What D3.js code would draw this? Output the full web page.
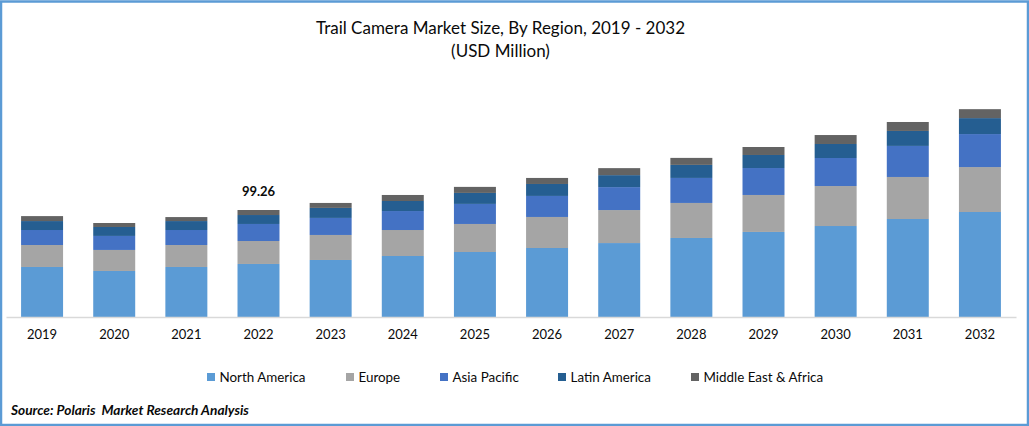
<!DOCTYPE html>
<html>
<head>
<meta charset="utf-8">
<script src="https://cdn.jsdelivr.net/npm/d3@7"></script>
<style>
  html, body { margin: 0; padding: 0; background: #fff; }
  svg { display: block; }
  text { font-family: Lato, "Open Sans", sans-serif; fill: #0a0a0a; }
</style>
</head>
<body>
<div id="chart"></div>
<script>
var years = [2019, 2020, 2021, 2022, 2023, 2024, 2025, 2026, 2027, 2028, 2029, 2030, 2031, 2032];
var regions = ["North America", "Europe", "Asia Pacific", "Latin America", "Middle East & Africa"];
var northAmerica = [46.4, 42.7, 46.4, 49.2, 52.9, 56.6, 60.3, 64.0, 68.6, 73.3, 78.9, 84.4, 90.9, 97.4];
var europe = [20.4, 19.5, 20.4, 21.3, 23.2, 24.1, 26.0, 28.8, 30.6, 32.5, 34.3, 37.1, 39.0, 41.7];
var asiaPacific = [13.9, 13.0, 13.9, 15.8, 15.8, 17.6, 18.6, 19.5, 21.3, 23.2, 25.0, 26.0, 28.8, 30.6];
var latinAmerica = [8.3, 8.3, 8.3, 8.3, 9.3, 9.3, 10.2, 11.1, 11.1, 12.1, 12.1, 13.0, 13.9, 14.8];
var middleEast = [4.6, 3.7, 3.7, 4.66, 4.6, 5.6, 5.6, 5.6, 6.5, 6.5, 7.4, 8.3, 8.3, 8.3];
var colors = ["#5b9bd5", "#a5a5a5", "#4472c4", "#255e91", "#636363"];
var labelYear = 2022;
var labelText = "99.26";

var w = 1029;
var h = 426;
var baseline = 317;

var rows = years.map(function (y, i) {
  return {
    year: y,
    "North America": northAmerica[i],
    "Europe": europe[i],
    "Asia Pacific": asiaPacific[i],
    "Latin America": latinAmerica[i],
    "Middle East & Africa": middleEast[i]
  };
});
var stacked = d3.stack().keys(regions)(rows);

var xScale = d3
  .scaleBand()
  .domain(years)
  .range([6, 1016])
  .paddingInner(0.418)
  .paddingOuter(0.209);

// 99.26 is the only printed total, it sets the pixels per unit
var yScale = d3.scaleLinear().domain([0, 99.26]).range([baseline, 210]);

var svg = d3.select("#chart").append("svg").attr("width", w).attr("height", h);

// frame
svg
  .append("rect")
  .attr("x", 1)
  .attr("y", 1.5)
  .attr("width", w - 2)
  .attr("height", h - 2.5)
  .attr("fill", "none")
  .attr("stroke", "#5b9bd5")
  .attr("stroke-width", 2.5);

svg
  .selectAll(".title")
  .data(["Trail Camera Market Size, By Region, 2019 - 2032", "(USD Million)"])
  .enter()
  .append("text")
  .attr("class", "title")
  .attr("x", 500.5)
  .attr("y", function (d, i) {
    return 34 + i * 23;
  })
  .attr("text-anchor", "middle")
  .attr("font-size", "17px")
  .text(function (d) {
    return d;
  });

svg
  .selectAll(".layer")
  .data(stacked)
  .enter()
  .append("g")
  .attr("class", "layer")
  .attr("fill", function (d, i) {
    return colors[i];
  })
  .selectAll("rect")
  .data(function (d) {
    return d;
  })
  .enter()
  .append("rect")
  .attr("x", function (d) {
    return xScale(d.data.year);
  })
  .attr("y", function (d) {
    return yScale(d[1]);
  })
  .attr("width", xScale.bandwidth())
  .attr("height", function (d) {
    return yScale(d[0]) - yScale(d[1]);
  });

var xAxis = svg
  .append("g")
  .attr("transform", "translate(0," + baseline + ")")
  .call(d3.axisBottom(xScale).tickSize(0).tickPadding(13));
xAxis.select(".domain").attr("stroke", "#d9d9d9").attr("stroke-width", 1.5);
xAxis.selectAll("text").attr("font-family", "Lato").attr("font-size", "13px");

svg
  .append("text")
  .attr("x", xScale(labelYear) + xScale.bandwidth() / 2)
  .attr("y", 196)
  .attr("text-anchor", "middle")
  .attr("font-size", "13px")
  .attr("font-weight", "bold")
  .text(labelText);

// legend, one x for each entry
var legendX = [207, 346, 440, 558, 691];
var legend = svg
  .selectAll(".legend")
  .data(regions)
  .enter()
  .append("g")
  .attr("class", "legend")
  .attr("transform", function (d, i) {
    return "translate(" + legendX[i] + ",373)";
  });
legend
  .append("rect")
  .attr("width", 8)
  .attr("height", 8)
  .attr("fill", function (d, i) {
    return colors[i];
  });
legend
  .append("text")
  .attr("x", 12.5)
  .attr("y", 8.5)
  .attr("font-size", "13.4px")
  .text(function (d) {
    return d;
  });

svg
  .append("text")
  .attr("x", 11)
  .attr("y", 415)
  .attr("font-size", "13.7px")
  .attr("font-weight", "bold")
  .attr("font-style", "italic")
  .attr("xml:space", "preserve")
  .text("Source: Polaris  Market Research Analysis");
</script>
</body>
</html>
